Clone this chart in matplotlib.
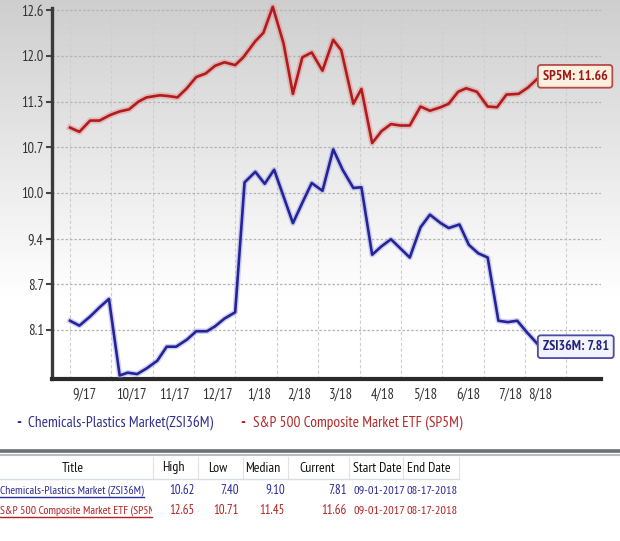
import numpy as np
import matplotlib
matplotlib.use("Agg")
import matplotlib.pyplot as plt
import matplotlib.patheffects as pe
from matplotlib.lines import Line2D
from matplotlib.transforms import Bbox, TransformedBbox
from matplotlib import font_manager

W, H = 620, 541

# days since 09-01-2017
red_days = [0, 7, 15, 22, 30, 37, 44, 51, 57, 67, 73, 80, 87, 94, 101, 108, 115, 123, 129, 138,
            144, 151, 159, 166, 173, 180, 188, 196, 202, 211, 217, 225, 232, 239, 246, 253, 261, 268, 276, 282,
            289, 295, 303, 311, 318, 325, 334, 341, 350]
red_vals = [10.93, 10.87, 11.03, 11.03, 11.11, 11.16, 11.19, 11.30, 11.36, 11.39, 11.38, 11.36, 11.49, 11.65, 11.70, 11.81, 11.86, 11.82, 11.93, 12.16,
            12.28, 12.65, 12.13, 11.41, 11.93, 12.00, 11.74, 12.18, 12.03, 11.27, 11.48, 10.71, 10.88, 10.98, 10.96, 10.96, 11.23, 11.17, 11.22, 11.27,
            11.44, 11.49, 11.44, 11.23, 11.22, 11.40, 11.41, 11.50, 11.66]

blue_days = [0, 7, 15, 22, 29, 37, 43, 50, 57, 65, 72, 79, 87, 94, 102, 108, 115, 123, 130, 138,
             145, 152, 166, 174, 180, 188, 196, 203, 211, 217, 225, 232, 239, 246, 253, 261, 268, 276, 282, 290,
             297, 304, 311, 319, 326, 333, 340, 350]
blue_vals = [8.18, 8.11, 8.24, 8.37, 8.49, 7.40, 7.44, 7.42, 7.50, 7.61, 7.81, 7.81, 7.91, 8.03, 8.03, 8.10, 8.21, 8.30, 10.15, 10.30,
             10.13, 10.33, 9.57, 9.90, 10.14, 10.03, 10.62, 10.33, 10.07, 10.08, 9.12, 9.24, 9.34, 9.21, 9.08, 9.51, 9.69, 9.57, 9.50, 9.55,
             9.26, 9.14, 9.08, 8.18, 8.16, 8.18, 8.02, 7.81]

y_ticks = [12.6, 11.95, 11.3, 10.65, 10.0, 9.35, 8.7, 8.05]
y_labels = ["12.6", "12.0", "11.3", "10.7", "10.0", "9.4", "8.7", "8.1"]
month_grid = [k * 30.8 for k in range(13)]
month_pos = [11, 46, 77.5, 109.5, 141, 170.5, 202, 233, 264.5, 296.5, 327.5, 350]
month_labels = ["9/17", "10/17", "11/17", "12/17", "1/18", "2/18", "3/18", "4/18", "5/18", "6/18", "7/18", "8/18"]

tbl_cols = ["Title", "High", "Low", "Median", "Current", "Start Date", "End Date"]
tbl_titles = ["Chemicals-Plastics Market (ZSI36M)", "S&P 500 Composite Market ETF (SP5M)"]
tbl_high = ["10.62", "12.65"]
tbl_low = ["7.40", "10.71"]
tbl_median = ["9.10", "11.45"]
tbl_current = ["7.81", "11.66"]
tbl_start = ["09-01-2017", "09-01-2017"]
tbl_end = ["08-17-2018", "08-17-2018"]

RED = "#b01c1c"
BLUE = "#24249a"

# pick a narrow sans if one is installed
names = {f.name for f in font_manager.fontManager.ttflist}
prefs = ["PT Sans Narrow", "Arial Narrow", "Liberation Sans Narrow", "Archivo Narrow", "Roboto Condensed",
         "Open Sans Condensed", "Fira Sans Condensed", "IBM Plex Sans Condensed", "Liberation Sans"]
narrow = next(p for p in prefs if p in names or p == "Liberation Sans")
plt.rcParams["font.family"] = [narrow, "DejaVu Sans"]


def fx(x):
    return x / W


def fy(y):
    return 1 - y / H


fig = plt.figure(figsize=(W / 100, H / 100), dpi=100)

# gray-to-white background behind the chart
bg = fig.add_axes([0, 0, 1, 1], zorder=-5)
grad = np.linspace(0.79, 1.0, 256) ** 0.9
grad = np.clip(np.concatenate([grad, np.ones(150)]), 0, 1)
img = np.stack([grad, grad, grad], axis=-1)[:, None, :].repeat(2, axis=1)
bg.imshow(img, extent=[0, 1, fy(470), 1], aspect="auto", origin="upper")
bg.set_xlim(0, 1)
bg.set_ylim(0, 1)
bg.axis("off")

ax = fig.add_axes([fx(52), fy(379), fx(601) - fx(52), fy(4) - fy(379)])
ax.set_facecolor("none")
ax.set_xlim(-13.4, 395.4)
ax.set_ylim(7.35, 12.69)

ax.plot(red_days, red_vals, color=RED, lw=1.9, solid_joinstyle="round", zorder=4,
        path_effects=[pe.Stroke(linewidth=4.5, foreground="#e58a8a", alpha=0.45), pe.Normal()])
ax.plot(blue_days, blue_vals, color=BLUE, lw=1.9, solid_joinstyle="round", zorder=4,
        path_effects=[pe.Stroke(linewidth=4.0, foreground="#9a9ae0", alpha=0.45), pe.Normal()])

ax.set_yticks(y_ticks)
ax.set_yticklabels(y_labels)
ax.set_xticks(month_pos)
ax.set_xticklabels(month_labels)
ax.set_xticks(month_grid, minor=True)
ax.tick_params(axis="y", length=4, width=1.5, color="#444444", pad=2, labelsize=10.5, labelcolor="#333333")
ax.tick_params(axis="x", which="both", length=0, pad=6, labelsize=10.5, labelcolor="#333333")
ax.grid(axis="y", which="major", color="#b4b4b4", lw=0.9, ls=(0, (2, 1.5)))
ax.grid(axis="x", which="minor", color="#cfcfcf", lw=0.8, ls=(0, (3, 2)))
ax.grid(axis="x", which="major", visible=False)

for s in ["top", "right"]:
    ax.spines[s].set_visible(False)
ax.spines["left"].set_linewidth(2.4)
ax.spines["left"].set_color("#3a3a3a")
ax.spines["left"].set_bounds(7.35, 12.63)
ax.spines["bottom"].set_linewidth(3)
ax.spines["bottom"].set_color("#2a2a2a")

ax.text(352, red_vals[-1], "SP5M: 11.66", color="#9c1a1a", fontsize=10, fontweight="bold",
        ha="left", va="center", clip_on=False, zorder=6,
        bbox=dict(boxstyle="round,pad=0.35,rounding_size=0.2", fc="#fdf0df", ec="#b84a4a", lw=1.3))
ax.text(352, blue_vals[-1], "ZSI36M: 7.81", color="#22227a", fontsize=10, fontweight="bold",
        ha="left", va="center", clip_on=False, zorder=6,
        bbox=dict(boxstyle="round,pad=0.35,rounding_size=0.2", fc="#f3f3fd", ec="#4a4aa8", lw=1.3))

# legend
fig.text(fx(16), fy(423), "-", color=BLUE, fontsize=12, fontweight="bold", va="center")
fig.text(fx(28), fy(423), "Chemicals-Plastics Market(ZSI36M)", color="#2f2f8c", fontsize=11, va="center")
fig.text(fx(240), fy(423), "-", color=RED, fontsize=12, fontweight="bold", va="center")
fig.text(fx(253), fy(423), "S&P 500 Composite Market ETF (SP5M)", color="#b22a2a", fontsize=11, va="center")

# separator
fig.add_artist(Line2D([0, 1], [fy(451), fy(451)], color="#6a7075", lw=2.6))
fig.add_artist(Line2D([0, 1], [fy(454.5), fy(454.5)], color="#b9bec4", lw=1.5))

# table
col_centers = [73, 173, 218, 263, 317, 377, 429]
for c, x in zip(tbl_cols, col_centers):
    fig.text(fx(x), fy(468), c, fontsize=10, ha="center", va="center", color="#111111")
for x in [153, 198, 243, 288, 349, 403, 459]:
    fig.add_artist(Line2D([fx(x), fx(x)], [fy(457), fy(478)], color="#e2e2e2", lw=0.8))
fig.add_artist(Line2D([0, fx(459)], [fy(478.5), fy(478.5)], color="#d8dce4", lw=1))

title_clip = TransformedBbox(Bbox([[0, 0], [fx(152), 1]]), fig.transFigure)
row_y = [491, 511]
row_colors = ["#2a2a9c", "#b22222"]
links = []
for r in range(2):
    y = row_y[r]
    col = row_colors[r]
    t = fig.text(fx(0), fy(y), tbl_titles[r], fontsize=8.4, color=col, ha="left", va="center")
    t.set_clip_on(True)
    t.set_clip_box(title_clip)
    links.append(t)
    fig.text(fx(195), fy(y), tbl_high[r], fontsize=9.3, color=col, ha="right", va="center")
    fig.text(fx(239), fy(y), tbl_low[r], fontsize=9.3, color=col, ha="right", va="center")
    fig.text(fx(285), fy(y), tbl_median[r], fontsize=9.3, color=col, ha="right", va="center")
    fig.text(fx(347), fy(y), tbl_current[r], fontsize=9.3, color=col, ha="right", va="center")
    fig.text(fx(379), fy(y), tbl_start[r], fontsize=8.8, color=col, ha="center", va="center")
    fig.text(fx(432), fy(y), tbl_end[r], fontsize=8.8, color=col, ha="center", va="center")

fig.canvas.draw()
rend = fig.canvas.get_renderer()
for t, col in zip(links, row_colors):
    bb = t.get_window_extent(rend)
    fig.add_artist(Line2D([bb.x0 / W, min(bb.x1, 152) / W], [(bb.y0 - 0.5) / H] * 2, color=col, lw=1))

fig.savefig("out.png", dpi=100)
